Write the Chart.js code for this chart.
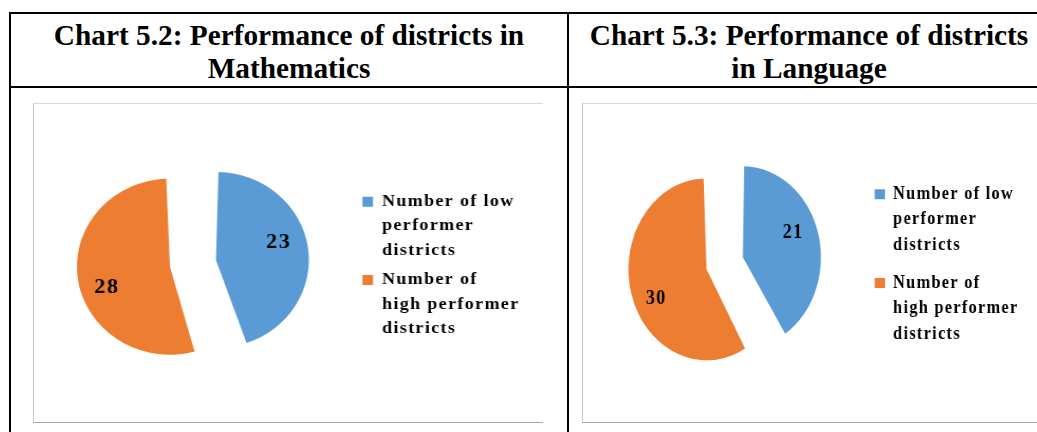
<!DOCTYPE html>
<html>
<head>
<meta charset="utf-8">
<script src="https://cdn.jsdelivr.net/npm/chart.js@4/dist/chart.umd.min.js"></script>
<style>
html,body{margin:0;padding:0;background:#fff;}
body{width:1037px;height:432px;overflow:hidden;position:relative;}
.line{position:absolute;background:#000;}
.title{position:absolute;top:18.7px;font-family:"Liberation Serif","Times New Roman",serif;font-weight:bold;font-size:29.3px;line-height:33px;text-align:center;color:#000;white-space:nowrap;}
.box{position:absolute;box-sizing:border-box;border-top:1px solid #d9d9d9;border-left:1px solid #c8c8c8;border-bottom:1px solid #a6a6a6;}
.wrap{position:absolute;transform-origin:0 0;}
canvas{display:block;}
</style>
</head>
<body>
<div class="line" style="left:9px;top:12px;width:1040px;height:2px;"></div>
<div class="line" style="left:9px;top:86px;width:1040px;height:2px;"></div>
<div class="line" style="left:9px;top:12px;width:2px;height:430px;"></div>
<div class="line" style="left:567px;top:12px;width:2px;height:430px;"></div>

<div class="title" id="t1" style="left:11px;width:556px;"></div>
<div class="title" id="t2" style="left:569px;width:480px;"></div>

<div class="box" style="left:33px;top:103px;width:510px;height:320px;"></div>
<div class="box" style="left:582px;top:103px;width:460px;height:320px;"></div>

<div class="wrap" style="left:24px;top:104px;transform:scaleX(1.057);">
  <canvas id="c1" width="500" height="318"></canvas>
</div>
<div class="wrap" style="left:582px;top:104px;transform:scaleX(0.858);">
  <canvas id="c2" width="530" height="318"></canvas>
</div>

<script>
// ---- data ----
const titleMath = ['Chart 5.2: Performance of districts in', 'Mathematics'];
const titleLang = ['Chart 5.3: Performance of districts', 'in Language'];
const categoriesMath = [['Number of low', 'performer', 'districts'], ['Number of', 'high performer', 'districts']];
const valuesMath = [23, 28];
const categoriesLang = [['Number of low', 'performer', 'districts'], ['Number of', 'high performer', 'districts']];
const valuesLang = [21, 30];
const sliceColors = ['#5B9BD5', '#ED7D31'];

document.getElementById('t1').innerHTML = titleMath.join('<br>');
document.getElementById('t2').innerHTML = titleLang.join('<br>');

const SERIF = '"Liberation Serif", "Times New Roman", serif';

// letter spacing for legend text (measure + draw)
const legendSpacing = {
  id: 'legendSpacing',
  beforeLayout(chart, args, opts) { chart.ctx.letterSpacing = (opts.ls || 0) + 'px'; },
  afterLayout(chart) { chart.ctx.letterSpacing = '0px'; },
  beforeDraw(chart, args, opts) { chart.ctx.letterSpacing = (opts.ls || 0) + 'px'; },
  beforeDatasetsDraw(chart) { chart.ctx.letterSpacing = '0px'; }
};

// keep exploded slices at equal radius (ArcElement grows radius with offset)
const equalRadius = {
  id: 'equalRadius',
  afterDatasetUpdate(chart, args) {
    args.meta.data.forEach(arc => {
      const off = (arc.options.offset || 0) / 4;
      const fix = 1 - Math.sin(Math.min(Math.PI, arc.circumference || 0));
      arc.outerRadius = arc.outerRadius - off * fix;
    });
  }
};

// value labels inside slices
const valueLabels = {
  id: 'valueLabels',
  afterDatasetsDraw(chart, args, opts) {
    const ctx = chart.ctx;
    const meta = chart.getDatasetMeta(0);
    const data = chart.data.datasets[0].data;
    ctx.save();
    ctx.letterSpacing = (opts.ls || 0) + 'px';
    ctx.font = 'bold ' + opts.size + 'px ' + SERIF;
    ctx.fillStyle = '#000';
    ctx.textAlign = 'center';
    ctx.textBaseline = 'middle';
    meta.data.forEach((arc, i) => {
      const p = arc.getProps(['x', 'y', 'startAngle', 'endAngle', 'outerRadius', 'circumference'], true);
      const off = (arc.options.offset || 0) / 4;
      const fix = 1 - Math.sin(Math.min(Math.PI, p.circumference));
      const r = p.outerRadius + off * fix;
      const mid = (p.startAngle + p.endAngle) / 2;
      const a = mid + opts.shift;
      const px = p.x + Math.cos(mid) * off + Math.cos(a) * r * opts.frac;
      const py = p.y + Math.sin(mid) * off + Math.sin(a) * r * opts.frac + opts.dy;
      ctx.fillText(String(data[i]), px, py);
    });
    ctx.restore();
  }
};

function makePie(id, labels, values, cfg) {
  const chart = new Chart(document.getElementById(id), {
    type: 'pie',
    data: {
      labels: labels,
      datasets: [{
        data: values,
        backgroundColor: sliceColors,
        borderWidth: 0,
        offset: 88,
        hoverOffset: 0,
        radius: cfg.radius
      }]
    },
    options: {
      responsive: false,
      animation: false,
      devicePixelRatio: 1,
      events: [],
      layout: { padding: Object.assign({}, cfg.padding) },
      plugins: {
        tooltip: { enabled: false },
        legend: {
          position: 'right',
          align: 'start',
          title: { display: true, text: ' ', padding: { top: 4, bottom: 4 }, font: { size: 12, lineHeight: 1 } },
          labels: {
            boxWidth: cfg.boxW,
            boxHeight: 10,
            padding: cfg.legendPad,
            color: '#000',
            font: { family: SERIF, size: cfg.fontSize, weight: 'bold', lineHeight: cfg.lineHeight }
          }
        },
        legendSpacing: { ls: cfg.ls },
        valueLabels: { ls: 1.5, size: 21, shift: -0.157, frac: 0.71, dy: 2 }
      }
    },
    plugins: [legendSpacing, equalRadius, valueLabels]
  });
  // place the legend column where the reference has it
  const lw = chart.legend.width;
  chart.config.options.layout.padding.right = chart.width - cfg.legendLeft - lw;
  chart.update();
  return chart;
}

makePie('c1', categoriesMath, valuesMath, {
  radius: 88, legendLeft: 315.2,
  padding: { left: 4.4, right: 40, top: 64.2, bottom: 63.6 },
  boxW: 10, legendPad: 5, fontSize: 17, lineHeight: 1.435, ls: 1.3
});
makePie('c2', categoriesLang, valuesLang, {
  radius: 91, legendLeft: 328.1,
  padding: { left: 4.5, right: 40, top: 47.8, bottom: 47.2 },
  boxW: 12, legendPad: 13, fontSize: 19, lineHeight: 1.33, ls: 1.5
});
</script>
</body>
</html>
